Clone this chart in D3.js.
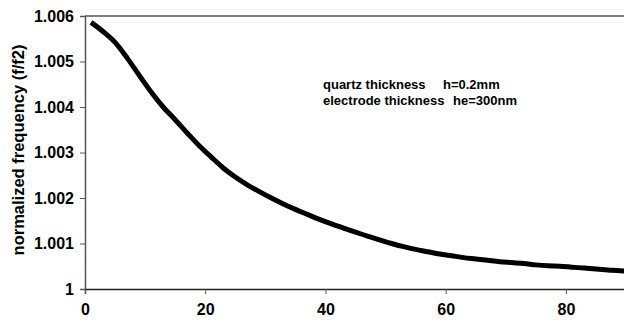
<!DOCTYPE html>
<html>
<head>
<meta charset="utf-8">
<script src="https://cdn.jsdelivr.net/npm/d3@7/dist/d3.min.js"></script>
<style>
  html, body { margin: 0; padding: 0; background: #fff; }
  svg { display: block; font-family: "Liberation Sans", Arial, sans-serif; font-weight: bold; }
</style>
</head>
<body>
<svg id="chart" width="624" height="320"></svg>
<script>
// position along the resonator (x) and normalized frequency f/f2
const xs = [1, 3, 5, 7, 9, 11, 13, 15, 17, 19, 21, 23, 25, 27, 29, 31, 33, 35, 37, 39,
            41, 43, 45, 47, 49, 51, 53, 55, 57, 59, 61, 63, 65, 67, 69, 71, 73, 75, 77,
            79, 81, 83, 85, 87, 89, 91];
const ys = [1.00586, 1.00566, 1.00542, 1.00508, 1.00470, 1.00433, 1.00400, 1.00372,
            1.00343, 1.00315, 1.00290, 1.00266, 1.00246, 1.00229, 1.00214, 1.00200,
            1.00187, 1.00175, 1.00164, 1.00153, 1.00143, 1.00134, 1.00125, 1.00116,
            1.00108, 1.00100, 1.00093, 1.00087, 1.00082, 1.00077, 1.00073, 1.00069,
            1.00066, 1.00063, 1.00060, 1.00058, 1.00056, 1.00053, 1.00051, 1.00050,
            1.00048, 1.00046, 1.00044, 1.00042, 1.00040, 1.00039];
const xTicks = [0, 20, 40, 60, 80];
const yTicks = [1, 1.001, 1.002, 1.003, 1.004, 1.005, 1.006];
const yTickLabels = ["1", "1.001", "1.002", "1.003", "1.004", "1.005", "1.006"];
const yTitle = "normalized frequency (f/f2)";
const notes = [["quartz thickness", "h=0.2mm"], ["electrode thickness", "he=300nm"]];

const svg = d3.select("#chart");
const plotLeft = 85, plotTop = 16, plotBottom = 289, plotRight = 626;

const x = d3.scaleLinear().domain([0, 90]).range([plotLeft, plotRight]);
const y = d3.scaleLinear().domain([1, 1.006]).range([plotBottom, plotTop]);

// plot frame: top edge
svg.append("line")
  .attr("x1", plotLeft).attr("x2", plotRight)
  .attr("y1", plotTop).attr("y2", plotTop)
  .attr("stroke", "#555").attr("stroke-width", 1.5);

// y axis
const yAxis = svg.append("g")
  .attr("transform", `translate(${plotLeft},0)`)
  .call(d3.axisLeft(y).tickValues(yTicks)
        .tickFormat((d, i) => yTickLabels[i]).tickSize(5).tickPadding(6));
yAxis.select(".domain").attr("stroke", "#555").attr("stroke-width", 1.5);
yAxis.selectAll(".tick line").attr("stroke", "#555").attr("stroke-width", 1);
yAxis.selectAll("text").attr("font-size", 16).attr("font-weight", "bold")
  .attr("font-family", "Liberation Sans, Arial, sans-serif").attr("fill", "#000");

// x axis
const xAxis = svg.append("g")
  .attr("transform", `translate(0,${plotBottom})`)
  .call(d3.axisBottom(x).tickValues(xTicks).tickSize(5).tickPadding(10));
xAxis.select(".domain").attr("stroke", "#222").attr("stroke-width", 1.5);
xAxis.selectAll(".tick line").attr("stroke", "#555").attr("stroke-width", 1);
xAxis.selectAll("text").attr("font-size", 16).attr("font-weight", "bold")
  .attr("font-family", "Liberation Sans, Arial, sans-serif").attr("fill", "#000");

// y title
svg.append("text")
  .attr("transform", `translate(24,150) rotate(-90)`)
  .attr("text-anchor", "middle")
  .attr("font-size", 16.5)
  .text(yTitle);

// frequency curve
const pts = xs.map((v, i) => [v, ys[i]]);
svg.append("path")
  .datum(pts)
  .attr("fill", "none")
  .attr("stroke", "#000")
  .attr("stroke-width", 5)
  .attr("stroke-linecap", "butt")
  .attr("d", d3.line().x(d => x(d[0])).y(d => y(d[1])).curve(d3.curveMonotoneX));

// parameter notes
const noteG = svg.append("g").attr("font-size", 13);
notes.forEach((n, i) => {
  noteG.append("text").attr("x", 323).attr("y", 89 + i * 16).text(n[0]);
  noteG.append("text").attr("x", i === 0 ? 443 : 453).attr("y", 89 + i * 16).text(n[1]);
});
</script>
</body>
</html>
